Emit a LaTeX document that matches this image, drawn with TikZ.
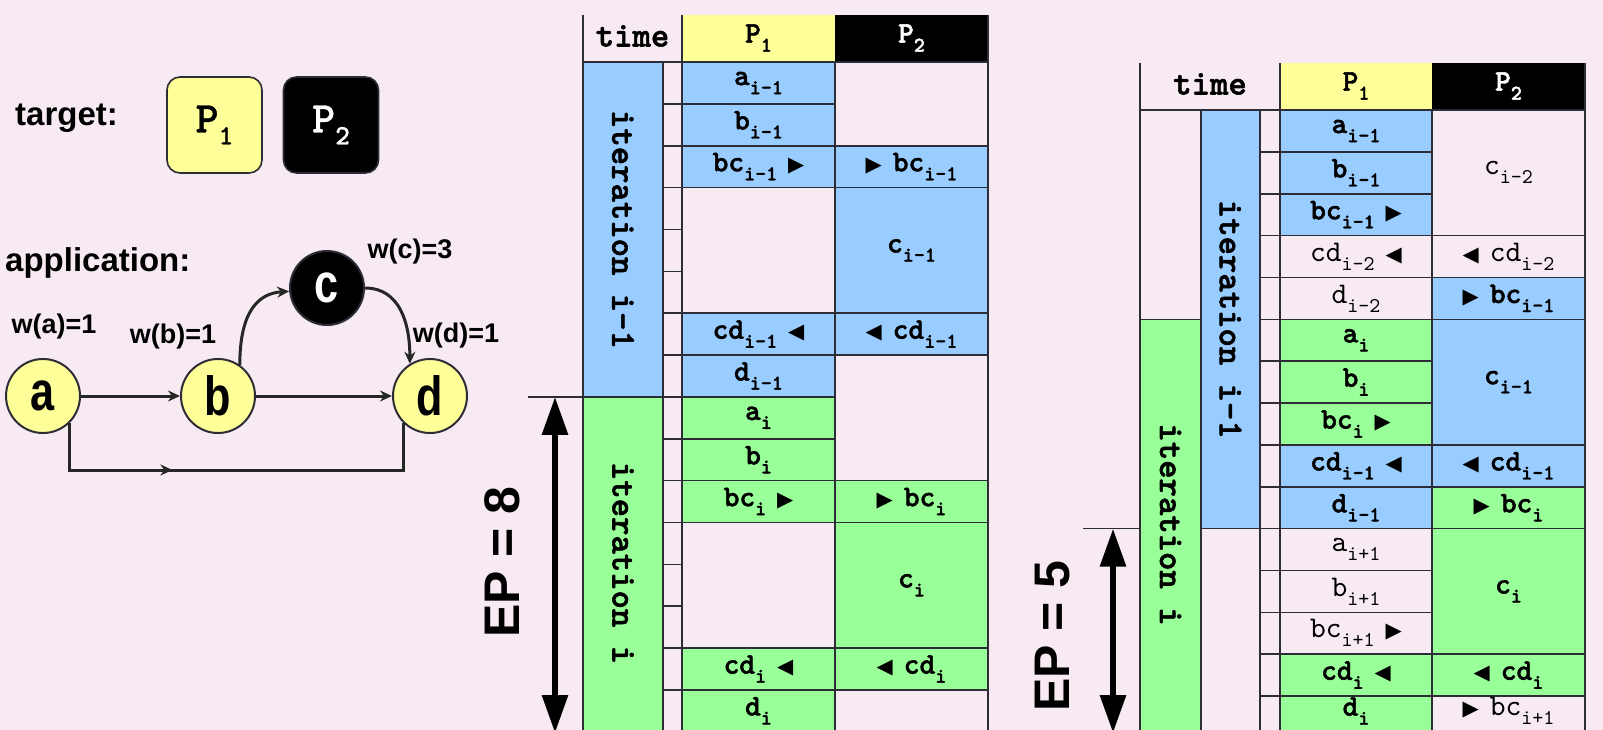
\documentclass[tikz,border=0pt]{standalone}
\usepackage{fontspec}
\usepackage{graphicx}
\usetikzlibrary{arrows.meta,decorations.markings}
\newfontfamily\sansfam{Liberation Sans}
\newfontfamily\symfam{DejaVu Sans}
% heavy slab-serif typewriter faces for the schedule tables
\font\cfA="[lmmonolt10-bold]:embolden=1.6" at 30pt
\font\cfS="[lmmonolt10-bold]:embolden=1.6" at 21pt
\font\cfH="[lmmonolt10-bold]:embolden=1.6" at 35pt
\font\clA="[lmmono10-regular]" at 30pt
\font\clS="[lmmono10-regular]" at 21pt
\font\tpP="[lmmonolt10-bold]:embolden=0.8" at 44pt
\font\tpS="[lmmonolt10-bold]:embolden=0.8" at 28pt
\definecolor{bgc}{RGB}{247,234,243}
\definecolor{iblue}{RGB}{153,204,255}
\definecolor{igreen}{RGB}{153,255,153}
\definecolor{iyellow}{RGB}{255,255,153}
\definecolor{gridc}{RGB}{45,45,55}
\let\subfont\cfS
\newcommand\cellfont{\cfA\let\subfont\cfS}
\newcommand\headfont{\cfH}
\newcommand\lite{\clA\let\subfont\clS}
\newcommand\subx[1]{\raisebox{-9pt}{\subfont #1}}
\newcommand\triR{{\symfam\fontsize{21}{21}\selectfont ▶}}
\newcommand\triL{{\symfam\fontsize{21}{21}\selectfont ◀}}
\newcommand\gap{\hspace{11pt}}
\newcommand\rh{41.86}
\def\ty{0}
% one schedule cell: name, x-left, x-right, first row, row after last, fill, text
\newcommand\tcell[7]{%
  \filldraw[grid,fill=#6] (#2,{\ty+\rh*#4}) rectangle (#3,{\ty+\rh*#5})
    node[pos=.5,celltext] (#1) {#7};}
\newcommand\nodel[1]{\scalebox{0.9}[1.15]{\sansfam\bfseries\fontsize{48}{48}\selectfont #1}}
\tikzset{
  grid/.style={draw=gridc, line width=1.6pt},
  celltext/.style={font=\cellfont, inner sep=0pt, text=black},
  headtext/.style={font=\headfont, inner sep=0pt},
  itertext/.style={font=\headfont, inner sep=0pt, rotate=-90},
  gnode/.style={circle, draw=gridc, line width=2pt, fill=iyellow, minimum size=74pt, inner sep=0pt},
  edge/.style={draw=black!85, line width=3pt, -{Stealth[length=12pt,width=11pt]}},
  wlabel/.style={font={\sansfam\bfseries\fontsize{27}{27}\selectfont}, inner sep=0pt},
  biglabel/.style={font={\sansfam\bfseries\fontsize{33}{33}\selectfont}, inner sep=0pt},
  eparrow/.style={line width=6pt, {Triangle[length=38pt,width=25pt]}-{Triangle[length=38pt,width=25pt]}},
  eptext/.style={font={\sansfam\bfseries\fontsize{50}{50}\selectfont}, rotate=90, inner sep=0pt},
  tbox/.style={rounded corners=13pt, draw=gridc, line width=1.6pt, minimum width=95pt, minimum height=96pt, inner sep=0pt},
}
\begin{document}
\begin{tikzpicture}[x=1pt,y=-1pt]
\fill[bgc] (0,0) rectangle (1603,730);
\useasboundingbox (0,0) rectangle (1603,730);
\begin{scope}
\clip (0,0) rectangle (1603,730);

% ---------------- target and application graph ----------------
\node[biglabel, anchor=west] (tgt) at (15,118) {target:};
\node[tbox, fill=iyellow] (tp1) at (214.5,125) {\tpP P\raisebox{-12pt}{\tpS 1}};
\node[tbox, fill=black, text=white] (tp2) at (331,125) {\tpP P\raisebox{-12pt}{\tpS 2}};
\node[biglabel, anchor=west] (app) at (5,263) {application:};

\node[gnode] (a) at (43,396) {\nodel{a}};
\node[gnode] (b) at (218,396) {\nodel{b}};
\node[gnode] (d) at (430,396) {\nodel{d}};
\node[gnode, fill=black, text=white] (c) at (327,288) {\nodel{c}};
\node[wlabel] (wa) at (54,327) {w(a)=1};
\node[wlabel] (wb) at (173,337) {w(b)=1};
\node[wlabel] (wc) at (410,252) {w(c)=3};
\node[wlabel] (wd) at (456,336) {w(d)=1};

\draw[edge] (a) -- (b);
\draw[edge] (b) -- (d);
\draw[edge] (b.55) .. controls +(0,-55) and +(-30,2) .. (c.185);
\draw[edge] (c.east) .. controls +(35,0) and +(0,-40) .. (d.122);
\coordinate (botline) at (0,470);
\draw[draw=black!85, line width=3pt, postaction={decorate},
  decoration={markings, mark=at position 0.35 with {\arrow{Stealth[length=12pt,width=11pt]}}}]
  (a.south east) -- (a.south east |- botline) -- (d.south west |- botline) -- (d.south west);

% ---------------- schedule without pipelining ----------------
\def\ty{62}
\fill[iyellow] (682,15) rectangle (835,62);
\fill[black] (835,15) rectangle (988,62);
\node[headtext] (lt) at (632.5,36) {time};
\node[celltext] (lp1) at (758.5,38) {P\subx{1}};
\node[celltext, text=white] (lp2) at (911.5,38) {P\subx{2}};

\filldraw[grid,fill=iblue] (583,62) rectangle (663,{62+8*\rh});
\filldraw[grid,fill=igreen] (583,{62+8*\rh}) rectangle (663,745);
\node[itertext] (lit1) at (623,{62+4*\rh}) {iteration i-1};
\node[itertext] (lit2) at (623,563) {iteration i};

\tcell{la1}{682}{835}{0}{1}{iblue}{a\subx{i-1}}
\tcell{lb1}{682}{835}{1}{2}{iblue}{b\subx{i-1}}
\tcell{lbc1}{682}{835}{2}{3}{iblue}{bc\subx{i-1}\gap\triR}
\tcell{le1}{682}{835}{3}{6}{bgc}{}
\tcell{lcd1}{682}{835}{6}{7}{iblue}{cd\subx{i-1}\gap\triL}
\tcell{ld1}{682}{835}{7}{8}{iblue}{d\subx{i-1}}
\tcell{la2}{682}{835}{8}{9}{igreen}{a\subx{i}}
\tcell{lb2}{682}{835}{9}{10}{igreen}{b\subx{i}}
\tcell{lbc2}{682}{835}{10}{11}{igreen}{bc\subx{i}\gap\triR}
\tcell{le2}{682}{835}{11}{14}{bgc}{}
\tcell{lcd2}{682}{835}{14}{15}{igreen}{cd\subx{i}\gap\triL}
\tcell{ld2}{682}{835}{15}{16}{igreen}{d\subx{i}}

\tcell{mf1}{835}{988}{0}{2}{bgc}{}
\tcell{mbc1}{835}{988}{2}{3}{iblue}{\triR\gap bc\subx{i-1}}
\tcell{mc1}{835}{988}{3}{6}{iblue}{c\subx{i-1}}
\tcell{mcd1}{835}{988}{6}{7}{iblue}{\triL\gap cd\subx{i-1}}
\tcell{mf2}{835}{988}{7}{10}{bgc}{}
\tcell{mbc2}{835}{988}{10}{11}{igreen}{\triR\gap bc\subx{i}}
\tcell{mc2}{835}{988}{11}{14}{igreen}{c\subx{i}}
\tcell{mcd2}{835}{988}{14}{15}{igreen}{\triL\gap cd\subx{i}}
\tcell{mf3}{835}{988}{15}{17}{bgc}{}

\foreach \k in {0,...,16} \draw[grid] (663,{62+\k*\rh}) -- (682,{62+\k*\rh});
\draw[grid] (583,15) -- (583,745);
\draw[grid] (682,15) -- (682,745);
\draw[grid] (988,15) -- (988,745);
\draw[grid] (583,62) -- (988,62);

\draw[grid] (528,{62+8*\rh}) -- (583,{62+8*\rh});
\coordinate (ep8a) at (555,{62+8*\rh});
\coordinate (ep8b) at (555,733);
\draw[eparrow] (ep8a) -- (ep8b);
\node[eptext] (ep8) at (502,562) {EP = 8};

% ---------------- software-pipelined schedule ----------------
\def\ty{110}
\fill[iyellow] (1280,63) rectangle (1432,110);
\fill[black] (1432,63) rectangle (1585,110);
\node[headtext] (rt) at (1210,84) {time};
\node[celltext] (rp1) at (1356,86) {P\subx{1}};
\node[celltext, text=white] (rp2) at (1508.5,86) {P\subx{2}};

\filldraw[grid,fill=iblue] (1201,110) rectangle (1260,{110+10*\rh});
\filldraw[grid,fill=igreen] (1140,{110+5*\rh}) rectangle (1201,745);
\node[itertext] (rit1) at (1230.5,{110+5*\rh}) {iteration i-1};
\node[itertext] (rit2) at (1170.5,524.5) {iteration i};

\tcell{ra1}{1280}{1432}{0}{1}{iblue}{a\subx{i-1}}
\tcell{rb1}{1280}{1432}{1}{2}{iblue}{b\subx{i-1}}
\tcell{rbc1}{1280}{1432}{2}{3}{iblue}{bc\subx{i-1}\gap\triR}
\tcell{rcd0}{1280}{1432}{3}{4}{bgc}{\lite cd\subx{i-2}\gap\triL}
\tcell{rd0}{1280}{1432}{4}{5}{bgc}{\lite d\subx{i-2}}
\tcell{ra2}{1280}{1432}{5}{6}{igreen}{a\subx{i}}
\tcell{rb2}{1280}{1432}{6}{7}{igreen}{b\subx{i}}
\tcell{rbc2}{1280}{1432}{7}{8}{igreen}{bc\subx{i}\gap\triR}
\tcell{rcd1}{1280}{1432}{8}{9}{iblue}{cd\subx{i-1}\gap\triL}
\tcell{rd1}{1280}{1432}{9}{10}{iblue}{d\subx{i-1}}
\tcell{ra3}{1280}{1432}{10}{11}{bgc}{\lite a\subx{i+1}}
\tcell{rb3}{1280}{1432}{11}{12}{bgc}{\lite b\subx{i+1}}
\tcell{rbc3}{1280}{1432}{12}{13}{bgc}{\lite bc\subx{i+1}\gap\triR}
\tcell{rcd2}{1280}{1432}{13}{14}{igreen}{cd\subx{i}\gap\triL}
\tcell{rd2}{1280}{1432}{14}{15}{igreen}{}
\node[celltext] (rd2t) at (1356,711) {d\subx{i}};

\tcell{sc0}{1432}{1585}{0}{3}{bgc}{\lite c\subx{i-2}}
\tcell{scd0}{1432}{1585}{3}{4}{bgc}{\lite\triL\gap cd\subx{i-2}}
\tcell{sbc1}{1432}{1585}{4}{5}{iblue}{\triR\gap bc\subx{i-1}}
\tcell{sc1}{1432}{1585}{5}{8}{iblue}{c\subx{i-1}}
\tcell{scd1}{1432}{1585}{8}{9}{iblue}{\triL\gap cd\subx{i-1}}
\tcell{sbc2}{1432}{1585}{9}{10}{igreen}{\triR\gap bc\subx{i}}
\tcell{sc2}{1432}{1585}{10}{13}{igreen}{c\subx{i}}
\tcell{scd2}{1432}{1585}{13}{14}{igreen}{\triL\gap cd\subx{i}}
\tcell{sbc3}{1432}{1585}{14}{15}{bgc}{}
\node[celltext] (sbc3t) at (1508.5,711) {\lite\triR\gap bc\subx{i+1}};

\foreach \k in {0,...,15} \draw[grid] (1260,{110+\k*\rh}) -- (1280,{110+\k*\rh});
\draw[grid] (1140,63) -- (1140,745);
\draw[grid] (1201,110) -- (1201,745);
\draw[grid] (1260,110) -- (1260,745);
\draw[grid] (1280,63) -- (1280,745);
\draw[grid] (1585,63) -- (1585,745);
\draw[grid] (1140,110) -- (1585,110);

\draw[grid] (1083,{110+10*\rh}) -- (1140,{110+10*\rh});
\coordinate (ep5a) at (1113,{110+10*\rh});
\coordinate (ep5b) at (1113,733);
\draw[eparrow] (ep5a) -- (ep5b);
\node[eptext] (ep5) at (1053,636) {EP = 5};
\end{scope}
\end{tikzpicture}
\end{document}
